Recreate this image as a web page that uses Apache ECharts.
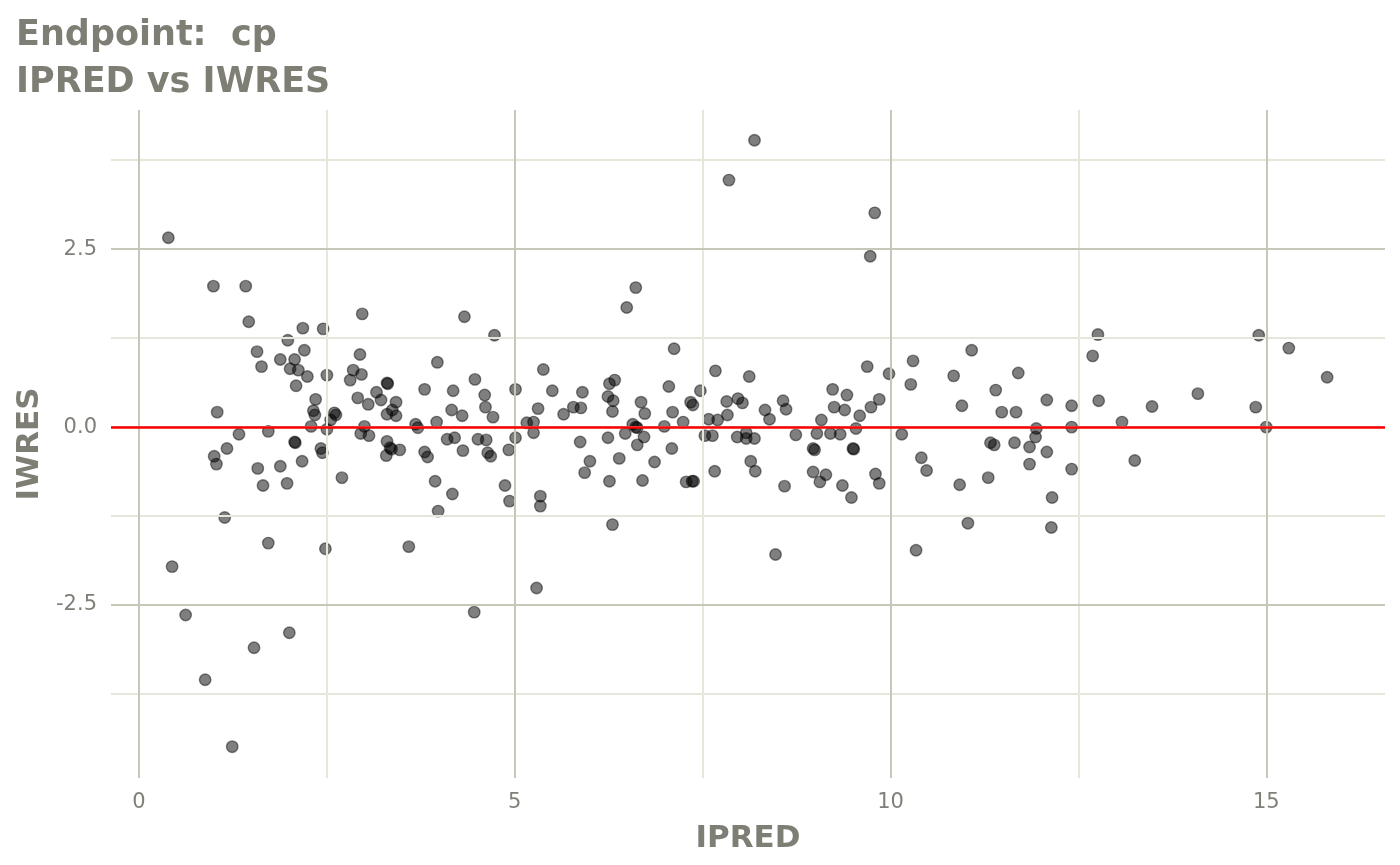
<!DOCTYPE html>
<html>
<head>
<meta charset="utf-8">
<script src="https://cdn.jsdelivr.net/npm/echarts@6/dist/echarts.min.js"></script>
<style>
html,body{margin:0;padding:0;background:#fff;}
#chart{width:1400px;height:865px;}
</style>
</head>
<body>
<div id="chart"></div>
<script>
// ---- data (IPRED, IWRES) ----
const ipred = [
0.39,0.44,0.62,0.88,0.99,1.00,1.03,1.04,1.14,1.17,1.24,1.33,1.42,1.46,1.53,1.57,1.58,1.63,1.65,1.72,
1.72,1.88,1.88,1.97,1.98,2.00,2.01,2.07,2.07,2.08,2.09,2.12,2.17,2.18,2.20,2.24,2.29,2.32,2.34,2.35,
2.42,2.44,2.45,2.48,2.50,2.50,2.55,2.60,2.62,2.70,2.81,2.85,2.91,2.94,2.95,2.96,2.97,3.00,3.05,3.06,
3.16,3.22,3.29,3.30,3.31,3.30,3.30,3.34,3.36,3.37,3.42,3.42,3.47,3.59,3.68,3.71,3.80,3.80,3.84,3.94,
3.96,3.97,3.98,4.10,4.16,4.17,4.18,4.20,4.30,4.31,4.33,4.46,4.47,4.51,4.60,4.61,4.62,4.64,4.68,4.71,
4.73,4.87,4.92,4.93,5.01,5.01,5.16,5.25,5.25,5.29,5.31,5.34,5.34,5.38,5.50,5.65,5.78,5.87,5.88,5.90,
5.93,6.00,6.24,6.24,6.26,6.26,6.30,6.30,6.31,6.33,6.39,6.47,6.49,6.57,6.61,6.63,6.61,6.63,6.68,6.70,
6.72,6.73,6.86,6.99,7.05,7.09,7.10,7.12,7.24,7.28,7.34,7.36,7.37,7.38,7.47,7.53,7.58,7.63,7.66,7.67,
7.70,7.82,7.83,7.85,7.96,7.97,8.03,8.08,8.08,8.12,8.14,8.19,8.19,8.20,8.33,8.39,8.47,8.57,8.59,8.61,
8.74,8.97,8.99,8.97,9.02,9.06,9.08,9.14,9.20,9.23,9.25,9.33,9.36,9.39,9.42,9.48,9.50,9.51,9.54,9.59,
9.69,9.73,9.74,9.79,9.80,9.85,9.85,9.98,10.15,10.27,10.30,10.34,10.41,10.48,10.84,10.92,10.95,11.03,11.08,11.30,
11.33,11.38,11.40,11.48,11.65,11.67,11.70,11.85,11.85,11.93,11.94,12.08,12.08,12.14,12.15,12.41,12.41,12.41,12.69,12.76,
12.77,13.08,13.25,13.48,14.09,14.86,14.90,15.00,15.30,15.81
];
const iwres = [
2.66,-1.96,-2.64,-3.55,1.98,-0.41,-0.52,0.21,-1.27,-0.30,-4.49,-0.10,1.98,1.48,-3.10,1.06,-0.58,0.85,-0.82,-0.06,
-1.63,0.95,-0.55,-0.79,1.22,-2.89,0.82,0.95,-0.21,-0.22,0.58,0.80,-0.48,1.39,1.08,0.71,0.01,0.23,0.17,0.39,
-0.30,-0.36,1.38,-1.71,0.73,-0.03,0.10,0.20,0.17,-0.71,0.66,0.80,0.41,1.02,-0.09,0.74,1.59,0.01,0.32,-0.12,
0.49,0.38,-0.40,0.62,0.61,0.18,-0.20,-0.29,-0.31,0.24,0.35,0.16,-0.32,-1.68,0.04,-0.01,0.53,-0.35,-0.42,-0.76,
0.07,0.91,-1.18,-0.17,0.24,-0.94,0.51,-0.15,0.16,-0.33,1.55,-2.60,0.67,-0.17,0.45,0.28,-0.18,-0.36,-0.41,0.14,
1.29,-0.82,-0.32,-1.04,0.53,-0.15,0.06,0.07,-0.08,-2.26,0.26,-0.97,-1.11,0.81,0.51,0.18,0.28,-0.21,0.27,0.49,
-0.64,-0.48,0.43,-0.15,0.61,-0.76,0.22,-1.37,0.37,0.66,-0.44,-0.09,1.68,0.04,0.00,-0.01,1.96,-0.25,0.35,-0.75,
-0.14,0.19,-0.49,0.01,0.57,-0.30,0.21,1.10,0.07,-0.77,0.35,-0.76,0.31,-0.76,0.51,-0.12,0.11,-0.12,-0.62,0.79,
0.10,0.36,0.17,3.47,-0.14,0.40,0.34,-0.08,-0.16,0.71,-0.48,-0.16,4.03,-0.62,0.24,0.11,-1.79,0.37,-0.83,0.25,
-0.11,-0.30,-0.32,-0.63,-0.09,-0.77,0.10,-0.67,-0.09,0.53,0.28,-0.10,-0.82,0.24,0.45,-0.99,-0.30,-0.31,-0.02,0.16,
0.85,2.40,0.28,3.01,-0.66,0.39,-0.79,0.75,-0.10,0.60,0.93,-1.73,-0.43,-0.61,0.72,-0.81,0.30,-1.35,1.08,-0.71,
-0.22,-0.25,0.52,0.21,-0.22,0.21,0.76,-0.28,-0.52,-0.14,-0.02,0.38,-0.35,-1.41,-0.99,0.30,0.00,-0.59,1.00,1.30,
0.37,0.07,-0.47,0.29,0.47,0.28,1.29,0.00,1.11,0.70
];
const xTicks = [0, 5, 10, 15];
const yTicks = [-2.5, 0, 2.5];
const xMinor = [2.5, 7.5, 12.5];
const yMinor = [-3.75, -1.25, 1.25, 3.75];
const xRange = [-0.373, 16.58];
const yRange = [-4.93, 4.455];
const refLineY = 0;
const titleText = 'Endpoint:  cp\nIPRED vs IWRES';
const xName = 'IPRED';
const yName = 'IWRES';

const points = ipred.map((x, i) => [x, iwres[i]]);

const majorStyle = {color: '#c6c7b8', width: 2, type: 'solid'};
const minorStyle = {color: '#e6e7da', width: 2, type: 'solid'};
const gridLines = []
  .concat(xMinor.map(v => ({xAxis: v, lineStyle: minorStyle})))
  .concat(yMinor.map(v => ({yAxis: v, lineStyle: minorStyle})))
  .concat(xTicks.map(v => ({xAxis: v, lineStyle: majorStyle})))
  .concat(yTicks.map(v => ({yAxis: v, lineStyle: majorStyle})));

const textColor = '#7e7e75';
const chart = echarts.init(document.getElementById('chart'), null, {renderer: 'canvas'});
chart.setOption({
  animation: false,
  backgroundColor: '#ffffff',
  title: {
    text: titleText,
    left: 11,
    top: 7,
    textStyle: {
      fontFamily: 'DejaVu Sans',
      fontWeight: 'bold',
      fontSize: 35,
      lineHeight: 47,
      color: textColor
    }
  },
  grid: {left: 111, right: 15, top: 110, bottom: 87, containLabel: false, outerBoundsMode: 'none'},
  xAxis: {
    type: 'value',
    min: xRange[0],
    max: xRange[1],
    name: xName,
    nameLocation: 'middle',
    nameGap: 45,
    nameTextStyle: {fontFamily: 'DejaVu Sans', fontWeight: 'bold', fontSize: 31, color: textColor},
    axisLine: {show: false},
    splitLine: {show: false},
    axisTick: {show: true, length: 7, customValues: xTicks, lineStyle: {color: '#808080', width: 2}},
    axisLabel: {customValues: xTicks, margin: 14, fontFamily: 'DejaVu Sans', fontSize: 21, color: '#80807a',
      formatter: v => String(v)}
  },
  yAxis: {
    type: 'value',
    min: yRange[0],
    max: yRange[1],
    name: yName,
    nameLocation: 'middle',
    nameGap: 65,
    nameTextStyle: {fontFamily: 'DejaVu Sans', fontWeight: 'bold', fontSize: 31, color: textColor},
    axisLine: {show: false},
    splitLine: {show: false},
    axisTick: {show: true, length: 7, customValues: yTicks, lineStyle: {color: '#808080', width: 2}},
    axisLabel: {customValues: yTicks, margin: 14, fontFamily: 'DejaVu Sans', fontSize: 21, color: '#80807a',
      formatter: v => v.toFixed(1)}
  },
  series: [
    {
      type: 'scatter',
      z: 1,
      data: [],
      silent: true,
      markLine: {
        silent: true,
        symbol: ['none', 'none'],
        label: {show: false},
        animation: false,
        data: gridLines
      }
    },
    {
      type: 'scatter',
      z: 2,
      data: [],
      silent: true,
      markLine: {
        silent: true,
        symbol: ['none', 'none'],
        label: {show: false},
        animation: false,
        data: [{yAxis: refLineY, lineStyle: {color: '#ff0000', width: 2.5, type: 'solid'}}]
      }
    },
    {
      type: 'scatter',
      z: 3,
      data: points,
      symbol: 'circle',
      symbolSize: 11.5,
      itemStyle: {color: 'rgba(0,0,0,0.5)', borderColor: 'rgba(0,0,0,0.45)', borderWidth: 1.4, opacity: 1}
    }
  ]
});
</script>
</body>
</html>
